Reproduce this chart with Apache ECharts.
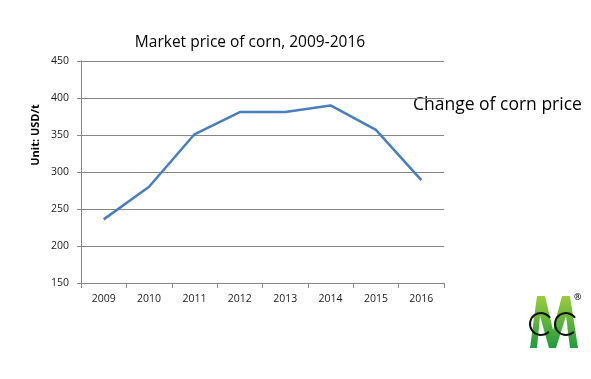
<!DOCTYPE html>
<html><head><meta charset="utf-8">
<script src="https://cdn.jsdelivr.net/npm/echarts@6/dist/echarts.min.js"></script>
<style>html,body{margin:0;padding:0;background:#fff;}#c{width:591px;height:379px;}</style>
</head><body><div id="c"></div>
<script>
const categories = ['2009','2010','2011','2012','2013','2014','2015','2016'];
const prices = [236, 280, 351, 381, 381, 390, 357, 289];
const yTicks = [150, 450, 50];
const titleText = 'Market price of corn, 2009-2016';
const yName = 'Unit: USD/t';
const sideNote = 'Change of corn price';

const chart = echarts.init(document.getElementById('c'), null, {renderer:'canvas'});
const F = 'Open Sans, Liberation Sans, sans-serif';
chart.setOption({
  animation:false,
  backgroundColor:'#fff',
  title:{text:titleText,left:245,top:30,textAlign:'center',
    textStyle:{fontFamily:F,fontSize:15.5,fontWeight:'normal',color:'#000'}},
  grid:{left:81,right:147,top:61,bottom:96},
  xAxis:{type:'category',data:categories,boundaryGap:true,
    axisLine:{lineStyle:{color:'#868686',width:1}},
    axisTick:{show:true,alignWithLabel:false,length:5,lineStyle:{color:'#868686'}},
    axisLabel:{fontFamily:F,fontSize:10.5,color:'#222',margin:11}},
  yAxis:{type:'value',min:yTicks[0],max:yTicks[1],interval:yTicks[2],
    axisLine:{show:true,lineStyle:{color:'#868686',width:1}},
    axisTick:{show:true,length:4,lineStyle:{color:'#868686'}},
    axisLabel:{fontFamily:F,fontSize:10.5,color:'#222',margin:12},
    splitLine:{show:true,lineStyle:{color:'#868686',width:1}}},
  series:[{type:'line',data:prices,symbol:'none',
    lineStyle:{color:'#4a7ebb',width:2.5}}],
  graphic:[
    {type:'text',x:36,y:135,rotation:Math.PI/2,
      style:{text:yName,font:'bold 11px '+F,fill:'#000',align:'center',verticalAlign:'middle'}},
    {type:'text',left:413,top:96,style:{text:sideNote,font:'17.5px '+F,fill:'#000'}},
    {type:'polygon',shape:{points:[[530,348],[537,296],[545,296],[553,330],[562,296],[570,296],[578,348],[570,348],[566,316],[556,348],[549,348],[540,316],[537,348]]},
      style:{fill:new echarts.graphic.LinearGradient(0,0,0,1,[{offset:0,color:'#9ccc3c'},{offset:1,color:'#1f9a3e'}])}},
    {type:'arc',shape:{cx:541,cy:324,r:11,startAngle:-0.6,endAngle:-5.5,clockwise:false},style:{stroke:'#111',lineWidth:2,fill:null}},
    {type:'arc',shape:{cx:566,cy:324,r:11,startAngle:-0.6,endAngle:-5.5,clockwise:false},style:{stroke:'#111',lineWidth:2,fill:null}},
    {type:'text',left:574,top:293,style:{text:'®',font:'bold 9px '+F,fill:'#111'}}
  ]
});
</script></body></html>
